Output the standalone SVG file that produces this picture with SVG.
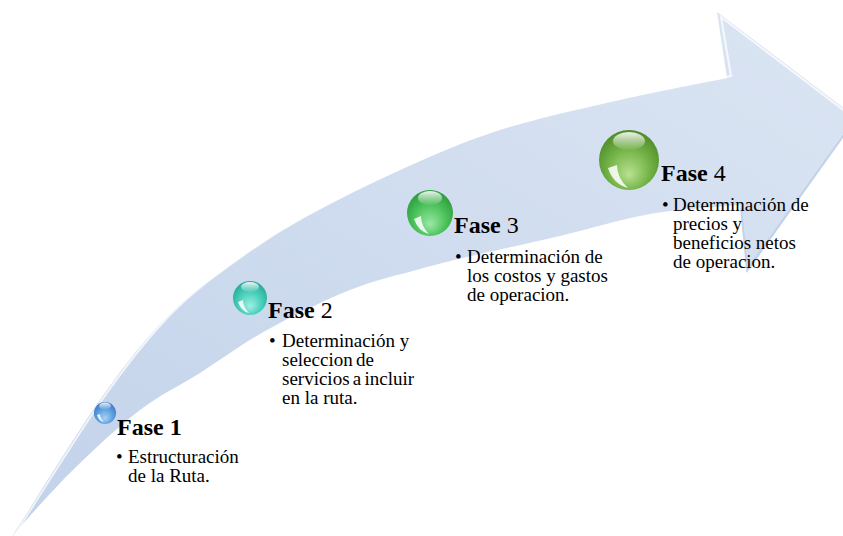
<svg xmlns="http://www.w3.org/2000/svg" width="843" height="536" viewBox="0 0 843 536">
<defs>
  <linearGradient id="band" x1="0" y1="1" x2="1" y2="0">
    <stop offset="0" stop-color="#c2d2e9"/>
    <stop offset="0.5" stop-color="#cfdcef"/>
    <stop offset="1" stop-color="#dbe5f3"/>
  </linearGradient>
  <radialGradient id="gBlue" cx="0.5" cy="0.6" r="0.6" fx="0.5" fy="0.75">
    <stop offset="0" stop-color="#a9d2f7"/>
    <stop offset="0.6" stop-color="#5c9fe0"/>
    <stop offset="1" stop-color="#3a76c0"/>
  </radialGradient>
  <radialGradient id="gTeal" cx="0.5" cy="0.6" r="0.6" fx="0.5" fy="0.75">
    <stop offset="0" stop-color="#9ff0e2"/>
    <stop offset="0.6" stop-color="#45cdb9"/>
    <stop offset="1" stop-color="#26a896"/>
  </radialGradient>
  <radialGradient id="gGreen" cx="0.5" cy="0.6" r="0.6" fx="0.5" fy="0.75">
    <stop offset="0" stop-color="#9be8a5"/>
    <stop offset="0.6" stop-color="#49c159"/>
    <stop offset="1" stop-color="#2c9a3c"/>
  </radialGradient>
  <radialGradient id="gLime" cx="0.5" cy="0.6" r="0.6" fx="0.5" fy="0.75">
    <stop offset="0" stop-color="#b8e290"/>
    <stop offset="0.6" stop-color="#72b145"/>
    <stop offset="1" stop-color="#4f8c2a"/>
  </radialGradient>
  <linearGradient id="hl" x1="0" y1="0" x2="0" y2="1">
    <stop offset="0" stop-color="#ffffff" stop-opacity="0.9"/>
    <stop offset="1" stop-color="#ffffff" stop-opacity="0.05"/>
  </linearGradient>
</defs>
<style>
  .title { font-family: "Liberation Serif", "Times New Roman", serif; font-size: 24px; fill: #000; }
  .b { font-weight: bold; }
  .body { font-family: "Liberation Serif", "Times New Roman", serif; font-size: 19px; fill: #000; }
  .shine { fill: url(#hl); }
  .glint { fill: #ffffff; opacity: 0.85; }
</style>
<rect width="843" height="536" fill="#ffffff"/>
<g id="connectors">
  <path id="arrow" fill="url(#band)" d="M 10,540 C 25,516.7 73.8,437.2 100,400 C 126.2,362.8 144.8,339.8 167,317 C 189.2,294.2 210.8,279.2 233,263 C 255.2,246.8 272.2,235.5 300,220 C 327.8,204.5 366.7,185 400,170 C 433.3,155 463.3,141.7 500,130 C 536.7,118.3 582.2,108.7 620,100 C 657.8,91.3 709.2,81.7 727,78 L 717,12 L 857,118 L 747,273 L 740,205 C 725,206.5 680,208.8 650,214 C 620,219.2 588.3,229.3 560,236 C 531.7,242.7 503.3,248.5 480,254 C 456.7,259.5 441.7,263 420,269 C 398.3,275 375.5,279.8 350,290 C 324.5,300.2 292,316.2 267,330 C 242,343.8 221.2,359.7 200,373 C 178.8,386.3 160.8,394.2 140,410 C 119.2,425.8 95,448.5 75,468 C 55,487.5 30.8,515 20,527 Z"/>
  <path fill="none" stroke="#ffffff" stroke-opacity="0.75" stroke-width="2" d="M 14,536 C 29,512.7 77.8,434.2 104,397 C 130.2,359.8 148.8,336.8 171,314 C 193.2,291.2 214.8,276.2 237,260 C 259.2,243.8 276.2,232.5 304,217 C 331.8,201.5 370.7,182 404,167 C 437.3,152 467.3,138.7 504,127 C 540.7,115.3 586.2,105.7 624,97 C 661.8,88.3 713.2,79.7 731,76 L 721,17 L 850,115"/>
  <path fill="none" stroke="#b7c8e2" stroke-opacity="0.6" stroke-width="2" d="M 854,121 L 747,270 L 741,208"/>
</g>
<g id="phase1">
  <circle cx="105" cy="413" r="11" fill="url(#gBlue)"/>
  <ellipse cx="105" cy="406" rx="6" ry="3.5" class="shine"/>
  <path class="glint" d="M 97,415 Q 99,421 104,422 Q 100,418 100,414 Z"/>
  <text class="title b" x="117" y="435">Fase 1</text>
  <text class="body" x="116" y="463">•</text>
  <text class="body" x="128" y="463">Estructuración</text>
  <text class="body" x="128" y="482">de la Ruta.</text>
</g>
<g id="phase2">
  <circle cx="250" cy="298" r="17" fill="url(#gTeal)"/>
  <ellipse cx="250" cy="287" rx="9" ry="5" class="shine"/>
  <path class="glint" d="M 238,302 Q 241,311 249,313 Q 243,307 243,300 Z"/>
  <text class="title" x="268" y="318"><tspan class="b">Fase</tspan> 2</text>
  <text class="body" x="269" y="347">•</text>
  <text class="body" x="282" y="347">Determinación y</text>
  <text class="body" x="282" y="366" word-spacing="-1.5">seleccion de</text>
  <text class="body" x="282" y="385" word-spacing="-1.5">servicios a incluir</text>
  <text class="body" x="282" y="404">en la ruta.</text>
</g>
<g id="phase3">
  <circle cx="430" cy="213" r="23" fill="url(#gGreen)"/>
  <ellipse cx="430" cy="198" rx="12" ry="7" class="shine"/>
  <path class="glint" d="M 414,219 Q 418,231 429,234 Q 421,226 421,216 Z"/>
  <text class="title" x="454" y="233"><tspan class="b">Fase</tspan> 3</text>
  <text class="body" x="455" y="263">•</text>
  <text class="body" x="467" y="263">Determinación de</text>
  <text class="body" x="467" y="282">los costos y gastos</text>
  <text class="body" x="467" y="301">de operacion.</text>
</g>
<g id="phase4">
  <circle cx="629" cy="160" r="30" fill="url(#gLime)"/>
  <ellipse cx="629" cy="141" rx="16" ry="9" class="shine"/>
  <path class="glint" d="M 608,168 Q 613,184 628,188 Q 617,178 617,165 Z"/>
  <text class="title" x="661" y="181"><tspan class="b">Fase</tspan> 4</text>
  <text class="body" x="662" y="211">•</text>
  <text class="body" x="673" y="211">Determinación de</text>
  <text class="body" x="673" y="230">precios y</text>
  <text class="body" x="673" y="249">beneficios netos</text>
  <text class="body" x="673" y="268">de operacion.</text>
</g>
</svg>
